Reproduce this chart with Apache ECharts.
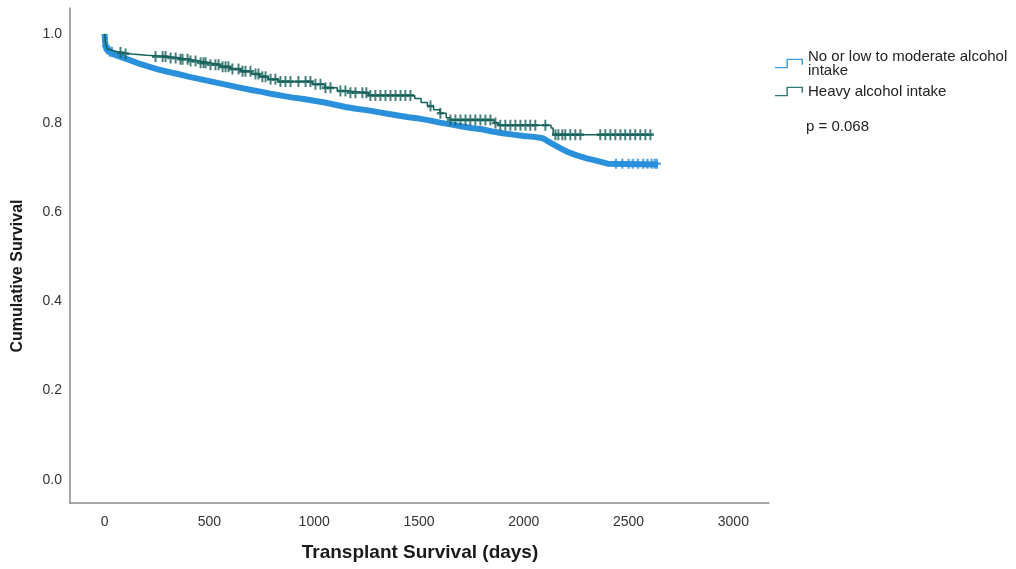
<!DOCTYPE html>
<html>
<head>
<meta charset="utf-8">
<script src="https://cdn.jsdelivr.net/npm/echarts@6/dist/echarts.min.js"></script>
<style>
  html, body { margin: 0; padding: 0; background: #ffffff; }
  #chart { width: 1016px; height: 569px; }
</style>
</head>
<body>
<div id="chart"></div>
<script>
// Kaplan–Meier estimates: event days and survival after each step
const lowDays = [0, 2, 5, 10, 20, 40, 60, 90, 120, 160, 200, 250, 300, 350, 400, 450, 500, 550, 600, 650,
  700, 750, 800, 850, 900, 950, 1000, 1050, 1100, 1150, 1200, 1250, 1300, 1350, 1400, 1450, 1500, 1550, 1600, 1650,
  1700, 1750, 1800, 1850, 1900, 1950, 2000, 2050, 2090, 2120, 2150, 2180, 2210, 2250, 2300, 2350, 2400, 2640];
const lowSurv = [1.0, 0.985, 0.972, 0.965, 0.960, 0.955, 0.951, 0.946, 0.941, 0.934, 0.928, 0.921, 0.915, 0.910, 0.904, 0.899, 0.894, 0.889, 0.884, 0.879,
  0.874, 0.870, 0.865, 0.861, 0.857, 0.854, 0.850, 0.846, 0.841, 0.836, 0.832, 0.829, 0.825, 0.821, 0.817, 0.813, 0.810, 0.806, 0.801, 0.797,
  0.793, 0.789, 0.786, 0.781, 0.777, 0.774, 0.771, 0.769, 0.766, 0.758, 0.750, 0.742, 0.735, 0.728, 0.721, 0.715, 0.709, 0.707];

const heavyDays = [0, 3, 8, 15, 25, 50, 80, 130, 200, 300, 360, 400, 450, 500, 550, 600, 650, 700, 740, 780,
  830, 990, 1050, 1110, 1160, 1260, 1480, 1510, 1540, 1570, 1600, 1630, 1650, 1860, 1880, 2130, 2140, 2610];
const heavySurv = [1.0, 0.985, 0.972, 0.965, 0.961, 0.958, 0.955, 0.952, 0.949, 0.946, 0.943, 0.939, 0.935, 0.931, 0.926, 0.921, 0.916, 0.910, 0.904, 0.898,
  0.893, 0.887, 0.879, 0.872, 0.868, 0.862, 0.855, 0.846, 0.838, 0.830, 0.822, 0.812, 0.807, 0.800, 0.795, 0.789, 0.774, 0.774];

// Censored observations (days)
const heavyCensorDays = [76, 100, 243, 277, 291, 315, 339, 362, 372, 396, 410, 434, 458, 472, 482, 505, 529, 544, 563, 577,
  591, 610, 639, 658, 672, 696, 720, 734, 753, 768, 792, 815, 839, 863, 887, 925, 959, 982, 1006, 1030,
  1054, 1078, 1125, 1149, 1173, 1197, 1230, 1249, 1268, 1292, 1316, 1340, 1364, 1388, 1412, 1435, 1459, 1555, 1602, 1650,
  1674, 1698, 1722, 1745, 1769, 1793, 1817, 1841, 1865, 1888, 1912, 1936, 1960, 1984, 2008, 2031, 2055, 2103, 2151, 2165,
  2184, 2198, 2222, 2246, 2270, 2365, 2389, 2413, 2437, 2461, 2484, 2508, 2532, 2556, 2580, 2604];
const lowCensorDays = [8, 15, 25, 35, 2440, 2470, 2500, 2520, 2545, 2570, 2590, 2610, 2625, 2635];

const xTicks = [0, 500, 1000, 1500, 2000, 2500, 3000];
const yTicks = [0.0, 0.2, 0.4, 0.6, 0.8, 1.0];

const groupNames = ['No or low to moderate alcohol\nintake', 'Heavy alcohol intake'];
const pValueText = 'p = 0.068';

const LOW_COLOR = '#2b90dc';
const HEAVY_COLOR = '#14605a';
const FONT = '"Liberation Sans", Arial, sans-serif';

// survival value of a step function at day t
function survAt(days, surv, t) {
  let v = surv[0];
  for (let i = 0; i < days.length; i++) {
    if (days[i] <= t) v = surv[i]; else break;
  }
  return v;
}

const lowLine = lowDays.map((d, i) => [d, lowSurv[i]]);
const heavyLine = heavyDays.map((d, i) => [d, heavySurv[i]]);
const lowCensor = lowCensorDays.map(d => [d, survAt(lowDays, lowSurv, d)]);
const heavyCensor = heavyCensorDays.map(d => [d, survAt(heavyDays, heavySurv, d)]);

const PLUS = 'path://M3.6,0H6.4V3.8H10V6.2H6.4V10H3.6V6.2H0V3.8H3.6Z';
const STEP_ICON = 'path://M0,9H11V1H27V7H25.6V2.4H12.4V10.4H0Z';

const chart = echarts.init(document.getElementById('chart'), null, { renderer: 'canvas' });

chart.setOption({
  animation: false,
  backgroundColor: '#ffffff',
  grid: { left: 70, right: 247, top: 8, bottom: 66, containLabel: false },
  legend: {
    orient: 'vertical',
    left: 770,
    top: 44,
    itemGap: 6,
    itemWidth: 28,
    itemHeight: 11,
    textStyle: { fontFamily: FONT, fontSize: 15, color: '#222', lineHeight: 14 },
    data: [
      { name: groupNames[0], icon: STEP_ICON, itemStyle: { color: '#3a9fdc' } },
      { name: groupNames[1], icon: STEP_ICON, itemStyle: { color: '#2f7a72' } }
    ]
  },
  xAxis: {
    type: 'value',
    min: -165,
    max: 3170,
    axisLine: { show: true, onZero: false, lineStyle: { color: '#8a8a8a', width: 1.5 } },
    axisTick: { show: false },
    splitLine: { show: false },
    axisLabel: {
      customValues: xTicks,
      margin: 12,
      fontFamily: FONT,
      fontSize: 14,
      color: '#333',
      formatter: v => String(v)
    }
  },
  yAxis: {
    type: 'value',
    min: -0.052,
    max: 1.058,
    axisLine: { show: true, onZero: false, lineStyle: { color: '#8a8a8a', width: 1.5 } },
    axisTick: { show: false },
    splitLine: { show: false },
    axisLabel: {
      customValues: yTicks,
      margin: 8,
      fontFamily: FONT,
      fontSize: 14,
      color: '#333',
      formatter: v => v.toFixed(1)
    }
  },
  graphic: [
    {
      type: 'text', x: 420, y: 553,
      style: { text: 'Transplant Survival (days)', fontFamily: FONT, fontSize: 19, fontWeight: 'bold', fill: '#1a1a1a', align: 'center', verticalAlign: 'middle' }
    },
    {
      type: 'text', x: 18, y: 276, rotation: Math.PI / 2,
      style: { text: 'Cumulative Survival', fontFamily: FONT, fontSize: 16, fontWeight: 'bold', fill: '#1a1a1a', align: 'center', verticalAlign: 'middle' }
    },
    {
      type: 'text', x: 806, y: 127,
      style: { text: pValueText, fontFamily: FONT, fontSize: 15, fill: '#222', align: 'left', verticalAlign: 'middle' }
    }
  ],
  series: [
    {
      name: groupNames[0], type: 'line', data: lowLine, showSymbol: false, z: 2,
      lineStyle: { color: LOW_COLOR, width: 6 }, itemStyle: { color: LOW_COLOR }
    },
    {
      name: groupNames[0] + ' censored', type: 'scatter', data: lowCensor, symbol: PLUS, symbolSize: [8, 10], z: 2,
      itemStyle: { color: LOW_COLOR }
    },
    {
      name: groupNames[1], type: 'line', step: 'end', data: heavyLine, showSymbol: false, z: 4,
      lineStyle: { color: HEAVY_COLOR, width: 1.5 }, itemStyle: { color: HEAVY_COLOR }
    },
    {
      name: groupNames[1] + ' censored', type: 'scatter', data: heavyCensor, symbol: PLUS, symbolSize: [7, 11], z: 4,
      itemStyle: { color: HEAVY_COLOR }
    }
  ]
});
</script>
</body>
</html>
